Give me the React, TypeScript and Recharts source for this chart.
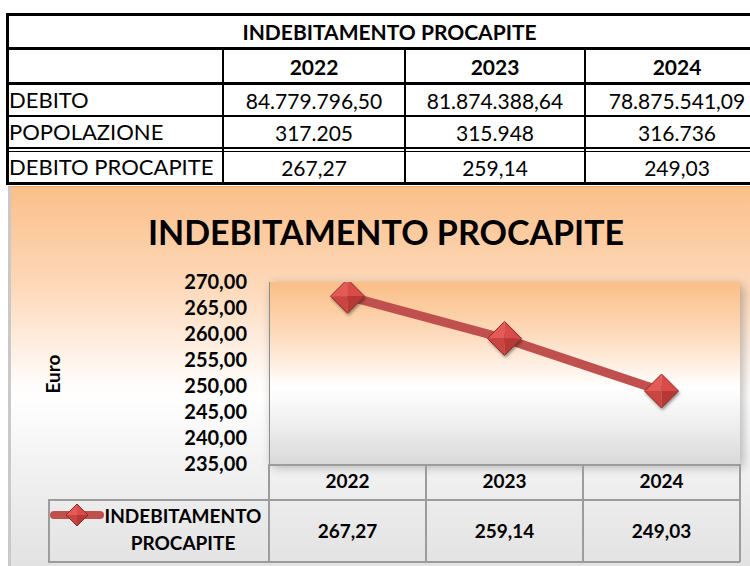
import React from 'react';
import { LineChart, Line, XAxis, YAxis } from 'recharts';

const years = ['2022', '2023', '2024'];
const debito = [84779796.5, 81874388.64, 78875541.09];
const popolazione = [317205, 315948, 316736];
const procapite = [267.27, 259.14, 249.03];
const yTicks = [235, 240, 245, 250, 255, 260, 265, 270];

const TITLE = 'INDEBITAMENTO PROCAPITE';
const FONT = 'Lato, "Open Sans", sans-serif';
const RED = '#C0504D';

// plot area of the chart, page coords
const PLOT = { left: 269, top: 282, right: 740, bottom: 464 };
const colW = (PLOT.right - PLOT.left) / years.length;

const fmt = (n: number, dec: number) => {
  const [int, frac] = n.toFixed(dec).split('.');
  const dotted = int.replace(/\B(?=(\d{3})+(?!\d))/g, '.');
  return frac ? dotted + ',' + frac : dotted;
};

const abs = (left: number, top: number, width: number, height: number): React.CSSProperties => ({
  position: 'absolute', left, top, width, height,
});

const Cell = ({ x, y, w, h, bold, left, size, children }: any) => (
  <div
    style={{
      ...abs(x, y, w, h),
      display: 'flex',
      alignItems: 'center',
      justifyContent: left ? 'flex-start' : 'center',
      fontWeight: bold ? 700 : 400,
      fontSize: size || 21,
      lineHeight: 1,
      whiteSpace: 'nowrap',
    }}
  >
    {children}
  </div>
);

const TopTable = () => {
  const cols = [9, 224, 406, 586, 770];
  const rows = [
    { label: 'DEBITO', vals: debito.map(v => fmt(v, 2)), top: 85, h: 30 },
    { label: 'POPOLAZIONE', vals: popolazione.map(v => fmt(v, 0)), top: 117, h: 30 },
    { label: 'DEBITO PROCAPITE', vals: procapite.map(v => fmt(v, 2)), top: 152, h: 30 },
  ];
  const hLines = [
    [13, 3], [47, 3], [82, 3], [115, 2], [147, 1.5], [150.5, 1.5], [182, 3],
  ];
  return (
    <div style={{ color: '#000' }}>
      {hLines.map(([y, t], i) => (
        <div key={'h' + i} style={{ ...abs(6, y, 764, t), background: '#000' }} />
      ))}
      <div style={{ ...abs(6, 13, 3, 172), background: '#000' }} />
      {[222, 404, 584].map(x => (
        <div key={'v' + x} style={{ ...abs(x, 50, 2, 135), background: '#000' }} />
      ))}
      <Cell x={9} y={16} w={761} h={31} bold>{TITLE}</Cell>
      {years.map((y, i) => (
        <Cell key={y} x={cols[i + 1]} y={50} w={cols[i + 2] - cols[i + 1] - 2} h={32} bold>{y}</Cell>
      ))}
      {rows.map(r => (
        <React.Fragment key={r.label}>
          <Cell x={9} y={r.top} w={212} h={r.h} left size={22}>{r.label}</Cell>
          {r.vals.map((v, i) => (
            <Cell key={i} x={cols[i + 1]} y={r.top} w={cols[i + 2] - cols[i + 1] - 2} h={r.h}>{v}</Cell>
          ))}
        </React.Fragment>
      ))}
    </div>
  );
};

const diamondFacets = (cx: number, cy: number, r: number) => {
  const t = `${cx},${cy - r}`, b = `${cx},${cy + r}`, l = `${cx - r},${cy}`, rr = `${cx + r},${cy}`, c = `${cx},${cy}`;
  return [
    { pts: `${t} ${l} ${c}`, fill: '#E35A57' },
    { pts: `${t} ${rr} ${c}`, fill: '#D94B48' },
    { pts: `${l} ${b} ${c}`, fill: '#CA4542' },
    { pts: `${rr} ${b} ${c}`, fill: '#B73936' },
  ];
};

const Diamond = ({ cx, cy, r, shadow }: { cx: number; cy: number; r: number; shadow?: boolean }) => (
  <g filter={shadow ? 'url(#dshadow)' : undefined}>
    {diamondFacets(cx, cy, r).map((f, i) => (
      <polygon key={i} points={f.pts} fill={f.fill} />
    ))}
    <polygon
      points={`${cx},${cy - r} ${cx + r},${cy} ${cx},${cy + r} ${cx - r},${cy}`}
      fill="none"
      stroke="#8E2B29"
      strokeWidth={1}
    />
  </g>
);

const Dot = (props: any) => {
  const { cx, cy, index } = props;
  if (cx == null || cy == null) return <g key={'n' + index} />;
  return <g key={'d' + index}><Diamond cx={cx} cy={cy} r={17} shadow /></g>;
};

export default function App() {
  const chartData = years.map((y, i) => ({ year: y, value: procapite[i] }));
  const gridColor = '#9C9C9C';

  return (
    <div style={{ position: 'absolute', left: 0, top: 0, width: 750, height: 566, overflow: 'hidden', fontFamily: FONT, background: '#fff' }}>
      <svg width={0} height={0} style={{ position: 'absolute' }}>
        <defs>
          <filter id="dshadow" x="-50%" y="-50%" width="200%" height="200%">
            <feDropShadow dx={1} dy={2} stdDeviation={1.5} floodColor="#000" floodOpacity={0.4} />
          </filter>
        </defs>
      </svg>

      <TopTable />

      {/* chart area */}
      <div
        style={{
          ...abs(8, 186, 742, 380),
          borderLeft: '3px solid #C9C9C9',
          borderTop: '1px solid #F2A866',
          boxSizing: 'border-box',
          background: 'linear-gradient(180deg, #FBBF89 0%, #FDDBBD 28%, #FFF7F1 48%, #FFFFFF 55%, #EFEFEF 78%, #E2E2E2 100%)',
        }}
      />
      <div
        style={{
          position: 'absolute', left: 0, width: 750, top: 210, textAlign: 'center',
          fontSize: 34, fontWeight: 700, color: '#000', lineHeight: '44px',
          paddingLeft: 22, boxSizing: 'border-box',
        }}
      >
        {TITLE}
      </div>
      <div
        style={{
          position: 'absolute', left: 52, top: 374, transform: 'translate(-50%, -50%) rotate(-90deg)',
          fontSize: 19, fontWeight: 700, color: '#000', lineHeight: 1,
        }}
      >
        Euro
      </div>

      {/* plot area background */}
      <div
        style={{
          ...abs(PLOT.left, PLOT.top, PLOT.right - PLOT.left, PLOT.bottom - PLOT.top),
          borderLeft: '1.5px solid #8C8C8C',
          boxSizing: 'border-box',
          background: 'linear-gradient(180deg, #FBBE86 0%, #FDDCBF 30%, #FFFFFF 58%, #EDEDED 80%, #D9D9D9 100%)',
          boxShadow: '3px 3px 10px rgba(0,0,0,0.28)',
        }}
      />

      {/* data table under the plot */}
      <div style={{ position: 'absolute', left: 0, top: 0, width: 750, height: 566 }}>
        <div style={{ ...abs(PLOT.left, PLOT.bottom, PLOT.right - PLOT.left, 1.5), background: gridColor }} />
        <div style={{ ...abs(48, PLOT.bottom + 35, PLOT.right - 48, 1.5), background: gridColor }} />
        <div style={{ ...abs(48, 561, PLOT.right - 48, 1.5), background: gridColor }} />
        <div style={{ ...abs(48, PLOT.bottom + 35, 1.5, 98 - 35), background: gridColor }} />
        {[0, 1, 2, 3].map(i => (
          <div key={i} style={{ ...abs(PLOT.left + i * colW - 0.75, PLOT.bottom, 1.5, 98), background: gridColor }} />
        ))}
        {procapite.map((v, i) => (
          <div
            key={i}
            style={{
              ...abs(PLOT.left + i * colW, PLOT.bottom + 36, colW, 61),
              display: 'flex', alignItems: 'center', justifyContent: 'center',
              fontSize: 19, fontWeight: 700, color: '#000',
            }}
          >
            {fmt(v, 2)}
          </div>
        ))}
        <svg style={{ position: 'absolute', left: 0, top: 0 }} width={750} height={566}>
          <line x1={54} y1={515} x2={100} y2={515} stroke={RED} strokeWidth={8} strokeLinecap="round" />
          <Diamond cx={77} cy={515} r={11} />
        </svg>
        <div
          style={{
            ...abs(102, 502, 162, 56),
            fontSize: 19, fontWeight: 700, color: '#000', textAlign: 'center', lineHeight: '27px',
          }}
        >
          INDEBITAMENTO<br />PROCAPITE
        </div>
      </div>

      <div style={{ position: 'absolute', left: 0, top: 0 }}>
        <LineChart
          width={750}
          height={566}
          data={chartData}
          margin={{ top: PLOT.top, right: 750 - PLOT.right, bottom: 0, left: 0 }}
        >
          <XAxis
            dataKey="year"
            height={566 - PLOT.bottom}
            padding={{ left: colW / 2, right: colW / 2 }}
            axisLine={false}
            tickLine={false}
            tickSize={0}
            tickMargin={11}
            tick={{ fontSize: 19, fontWeight: 700, fill: '#000', fontFamily: FONT }}
          />
          <YAxis
            width={PLOT.left}
            domain={[235, 270]}
            ticks={yTicks}
            interval={0}
            allowDataOverflow
            tickFormatter={(v: number) => fmt(v, 2)}
            axisLine={false}
            tickLine={false}
            tickSize={0}
            tickMargin={22}
            tick={{ fontSize: 20, fontWeight: 700, fill: '#000', fontFamily: FONT }}
          />
          <Line
            type="linear"
            dataKey="value"
            stroke={RED}
            strokeWidth={9}
            dot={Dot}
            activeDot={false}
            isAnimationActive={false}
          />
        </LineChart>
      </div>
    </div>
  );
}
